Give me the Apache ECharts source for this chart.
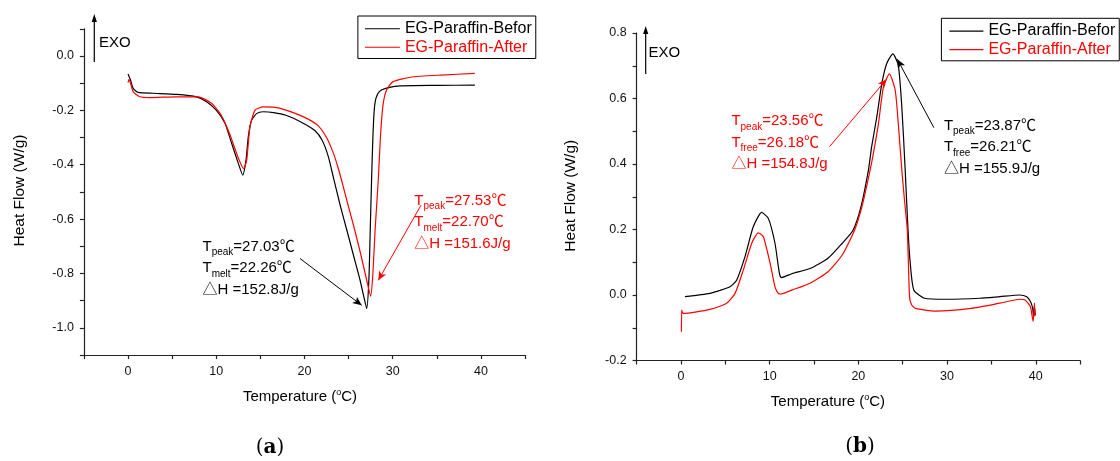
<!DOCTYPE html>
<html>
<head>
<meta charset="utf-8">
<script src="https://cdn.jsdelivr.net/npm/echarts@6/dist/echarts.min.js"></script>
<style>
html,body{margin:0;padding:0;background:#fff;}
#chart{width:1120px;height:461px;}
</style>
</head>
<body>
<div id="chart"></div>
<script>
// ---------- DATA ----------
const seriesNames = ['EG-Paraffin-Befor', 'EG-Paraffin-After'];
const xTickLabels = [0, 10, 20, 30, 40];

// (a) heating curves: temperature (°C) and heat flow (W/g)
const aBeforT = [0, 0.28, 0.58, 1.15, 2.85, 5.5, 7.77, 8.9, 10.0, 11.0, 11.75, 12.5, 13.0, 13.37, 13.63, 14.0, 14.6, 15.3, 16.5, 17.9, 19.9, 21.2, 22.0, 22.7, 23.3, 24.05, 24.8, 25.55, 26.3, 26.75, 27.05, 27.3, 27.45, 27.6, 27.75, 27.9, 28.1, 28.5, 29.2, 30.8, 35, 39.3];
const aBeforV = [-0.066, -0.088, -0.119, -0.134, -0.137, -0.141, -0.15, -0.168, -0.199, -0.248, -0.322, -0.395, -0.438, -0.383, -0.297, -0.236, -0.211, -0.205, -0.208, -0.218, -0.248, -0.275, -0.31, -0.37, -0.45, -0.55, -0.641, -0.733, -0.825, -0.89, -0.929, -0.82, -0.64, -0.457, -0.3, -0.2, -0.155, -0.13, -0.119, -0.11, -0.108, -0.107];
const aAfterT = [0, 0.12, 0.58, 1.34, 2.47, 5.5, 7.96, 9.45, 10.55, 11.5, 12.45, 13.1, 13.45, 13.82, 14.4, 15.33, 16.5, 17.9, 19.9, 21.5, 22.5, 23.3, 23.8, 24.2, 24.95, 25.7, 26.4, 27.05, 27.5, 27.75, 28.0, 28.36, 28.6, 28.9, 29.3, 30.0, 32.0, 35.5, 39.3];
const aAfterV = [-0.098, -0.086, -0.131, -0.15, -0.153, -0.15, -0.15, -0.174, -0.217, -0.285, -0.371, -0.414, -0.383, -0.26, -0.199, -0.187, -0.188, -0.199, -0.224, -0.255, -0.3, -0.36, -0.41, -0.457, -0.55, -0.641, -0.733, -0.825, -0.884, -0.8, -0.64, -0.457, -0.3, -0.18, -0.125, -0.095, -0.078, -0.07, -0.064];

// (b) cooling curves
const bBeforT = [0.45, 3.27, 5.53, 6.29, 7.22, 8.16, 9.1, 9.85, 10.6, 11.1, 11.33, 12.5, 14.56, 16.58, 18.18, 19.4, 20.3, 21.14, 21.5, 22.08, 22.65, 23.2, 23.89, 24.5, 24.9, 25.28, 25.6, 25.85, 26.25, 27.46, 29.9, 33.7, 35.96, 38.2, 38.98, 39.4, 39.65, 39.75, 39.85, 39.95];
const bBeforV = [-0.005, 0.005, 0.025, 0.046, 0.117, 0.209, 0.252, 0.234, 0.158, 0.066, 0.053, 0.065, 0.081, 0.112, 0.158, 0.198, 0.27, 0.382, 0.453, 0.544, 0.646, 0.707, 0.736, 0.702, 0.575, 0.382, 0.198, 0.097, 0.015, -0.01, -0.013, -0.01, -0.005, 0.0, -0.005, -0.02, -0.04, -0.066, -0.035, -0.061];
const bAfterT = [0.05, 0.08, 0.12, 0.26, 3.27, 5.15, 6.1, 7.03, 7.98, 8.72, 9.29, 10.05, 10.6, 10.98, 11.25, 12.5, 14.56, 16.58, 18.18, 19.6, 20.5, 21.33, 21.7, 22.27, 22.83, 23.5, 24.15, 24.5, 24.9, 25.2, 25.52, 25.77, 26.0, 26.46, 28.67, 32.7, 35.96, 38.2, 38.8, 39.4, 39.7, 39.78, 39.85, 39.92];
const bAfterV = [-0.112, -0.046, -0.05, -0.056, -0.044, -0.025, 0.005, 0.076, 0.158, 0.19, 0.178, 0.097, 0.025, 0.005, 0.003, 0.015, 0.036, 0.071, 0.122, 0.2, 0.28, 0.382, 0.433, 0.524, 0.636, 0.675, 0.626, 0.524, 0.382, 0.29, 0.198, -0.005, -0.03, -0.041, -0.049, -0.041, -0.025, -0.013, -0.015, -0.036, -0.08, -0.06, -0.025, -0.065];

// annotation arrows (data coordinates: [from, to])
const aBeforArrow = [[19.49, -0.745], [26.48, -0.917]];
const aAfterArrow = [[33.2, -0.549], [28.36, -0.825]];
const bBeforArrow = [[28.51, 0.511], [24.39, 0.72]];
const bAfterArrow = [[16.75, 0.453], [23.19, 0.659]];

// annotation texts
const aBeforNote = ['peak', '=27.03℃', 'melt', '=22.26℃', '152.8J/g'];
const aAfterNote = ['peak', '=27.53℃', 'melt', '=22.70℃', '151.6J/g'];
const bBeforNote = ['peak', '=23.87℃', 'free', '=26.21℃', '155.9J/g'];
const bAfterNote = ['peak', '=23.56℃', 'free', '=26.18℃', '154.8J/g'];

// ---------- CHART ----------
const FONT = "'Liberation Sans', Arial, 'Noto Sans CJK SC', 'DejaVu Sans', sans-serif";
const BLACK = '#000000', RED = '#ff0000';
const zip = (xs, ys) => xs.map((x, i) => [x, ys[i]]);

const chart = echarts.init(document.getElementById('chart'), null, {renderer: 'canvas'});

function xAxisCfg(gridIndex, labelMargin) {
  return {
    gridIndex, type: 'value', min: -5, max: 45, interval: 5,
    axisLine: {show: true, onZero: false, lineStyle: {color: '#222', width: 1.2}},
    axisTick: {show: true, inside: false, length: 4, lineStyle: {color: '#222', width: 1.2}},
    axisLabel: {
      fontSize: 12.5, fontFamily: FONT, color: '#111', margin: labelMargin,
      formatter: v => (xTickLabels.indexOf(Math.round(v)) >= 0 && Math.abs(v - Math.round(v)) < 1e-6) ? String(Math.round(v)) : ''
    },
    splitLine: {show: false}
  };
}
function yAxisCfg(gridIndex, min, max) {
  return {
    gridIndex, type: 'value', min, max, interval: 0.1,
    axisLine: {show: true, onZero: false, lineStyle: {color: '#222', width: 1.2}},
    axisTick: {show: true, inside: false, length: 4, lineStyle: {color: '#222', width: 1.2}},
    axisLabel: {
      fontSize: 12.5, fontFamily: FONT, color: '#111', margin: 10,
      formatter: v => { const k = Math.round(v * 10); return (k % 2 === 0) ? (k / 10).toFixed(1) : ''; }
    },
    splitLine: {show: false}
  };
}
function lineSeries(name, xi, data, color, arrow) {
  return {
    name, type: 'line', xAxisIndex: xi, yAxisIndex: xi, data,
    symbol: 'none', showSymbol: false, smooth: 0.2,
    lineStyle: {color, width: 1.2}, itemStyle: {color},
    markLine: {
      silent: true, symbol: ['none', 'arrow'], symbolSize: [6, 9],
      label: {show: false}, lineStyle: {color, width: 1, type: 'solid'},
      emphasis: {disabled: true},
      data: [[{coord: arrow[0]}, {coord: arrow[1]}]]
    }
  };
}
function note(x, yTop, color, n) {
  const m = {fontSize: 15, fontFamily: FONT, fill: color, lineHeight: 21.5};
  const s = {fontSize: 10, fontFamily: FONT, fill: color, lineHeight: 12, verticalAlign: 'bottom'};
  return {
    type: 'text', x, y: yTop, silent: true,
    style: {
      text: '{m|T}{s|' + n[0] + '}{m|' + n[1] + '}\n{m|T}{s|' + n[2] + '}{m|' + n[3] + '}\n{m|△H =' + n[4] + '}',
      rich: {m, s}, fill: color, fontSize: 15, fontFamily: FONT,
      align: 'left', verticalAlign: 'top', textAlign: 'left', textVerticalAlign: 'top'
    }
  };
}
function plainText(x, y, text, size, opts) {
  return Object.assign({
    type: 'text', x, y, silent: true,
    style: {text, fontSize: size, fontFamily: FONT, fill: '#000',
      align: 'center', verticalAlign: 'middle', textAlign: 'center', textVerticalAlign: 'middle'}
  }, opts || {});
}
function leftText(x, y, text, size) {
  return {
    type: 'text', x, y, silent: true,
    style: {text, fontSize: size, fontFamily: FONT, fill: '#000',
      align: 'left', verticalAlign: 'middle', textAlign: 'left', textVerticalAlign: 'middle'}
  };
}
function tempName(x, y) {
  return {
    type: 'text', x, y, silent: true,
    style: {
      text: '{n|Temperature (}{u|o}{n|C)}',
      rich: {
        n: {fontSize: 15, fontFamily: FONT, fill: '#000', lineHeight: 18},
        u: {fontSize: 9, fontFamily: FONT, fill: '#000', lineHeight: 11, verticalAlign: 'top'}
      },
      align: 'center', verticalAlign: 'middle', textAlign: 'center', textVerticalAlign: 'middle'
    }
  };
}
function exoArrow(x, yBottom, yTip) {
  return [
    {type: 'line', silent: true, shape: {x1: x, y1: yBottom, x2: x, y2: yTip + 6}, style: {stroke: '#000', lineWidth: 1.2}},
    {type: 'polygon', silent: true, shape: {points: [[x, yTip], [x - 2.6, yTip + 8], [x + 2.6, yTip + 8]]}, style: {fill: '#000'}}
  ];
}
function panelLabel(x, y, letter) {
  return {
    type: 'text', x, y, silent: true,
    style: {
      text: '{p|(}{b|' + letter + '}{p|)}',
      rich: {
        p: {fontSize: 20, fontFamily: "'DejaVu Serif', 'Liberation Serif', serif", fill: '#000'},
        b: {fontSize: 20, fontFamily: "'DejaVu Serif', 'Liberation Serif', serif", fontWeight: 'bold', fill: '#000'}
      },
      align: 'center', verticalAlign: 'middle', textAlign: 'center', textVerticalAlign: 'middle'
    }
  };
}

const legendBase = {
  orient: 'vertical', icon: 'rect', itemHeight: 1.2, itemGap: 0,
  borderColor: '#000', borderWidth: 1, borderRadius: 0,
  selectedMode: false,
  textStyle: {fontSize: 16, fontFamily: FONT, lineHeight: 18.5},
  data: [
    {name: seriesNames[0], icon: 'rect', textStyle: {color: BLACK}},
    {name: seriesNames[1], icon: 'rect', textStyle: {color: RED}}
  ]
};

const option = {
  animation: false,
  backgroundColor: '#fff',
  grid: [
    {left: 83.9, top: 28.85, width: 441.2, height: 326.15},
    {left: 636.6, top: 33.0, width: 443.5, height: 327.5}
  ],
  xAxis: [xAxisCfg(0, 10), xAxisCfg(1, 10)],
  yAxis: [yAxisCfg(0, -1.1, 0.1), yAxisCfg(1, -0.2, 0.8)],
  legend: [
    Object.assign({}, legendBase, {left: 357.9, top: 16, itemWidth: 35, padding: [3.5, 4, 2, 7]}),
    Object.assign({}, legendBase, {left: 941.4, top: 18.3, itemWidth: 34, padding: [3.5, 4, 2, 8]})
  ],
  series: [
    lineSeries(seriesNames[0], 0, zip(aBeforT, aBeforV), BLACK, aBeforArrow),
    lineSeries(seriesNames[1], 0, zip(aAfterT, aAfterV), RED, aAfterArrow),
    lineSeries(seriesNames[0], 1, zip(bBeforT, bBeforV), BLACK, bBeforArrow),
    lineSeries(seriesNames[1], 1, zip(bAfterT, bAfterV), RED, bAfterArrow)
  ],
  graphic: [
    ...exoArrow(94.3, 62, 14),
    leftText(98.9, 43.3, 'EXO', 15),
    ...exoArrow(645.7, 74, 26),
    leftText(648.6, 52.5, 'EXO', 15),
    note(202.5, 236, BLACK, aBeforNote),
    note(414.3, 190, RED, aAfterNote),
    note(731.4, 110.3, RED, bAfterNote),
    note(943.9, 115, BLACK, bBeforNote),
    tempName(300, 396.7),
    tempName(827.9, 401.7),
    plainText(19.5, 190.5, 'Heat Flow (W/g)', 15.5, {rotation: Math.PI / 2}),
    plainText(570.7, 195.8, 'Heat Flow (W/g)', 15.5, {rotation: Math.PI / 2}),
    panelLabel(270, 448, 'a'),
    panelLabel(860, 447, 'b')
  ]
};
chart.setOption(option);
</script>
</body>
</html>
